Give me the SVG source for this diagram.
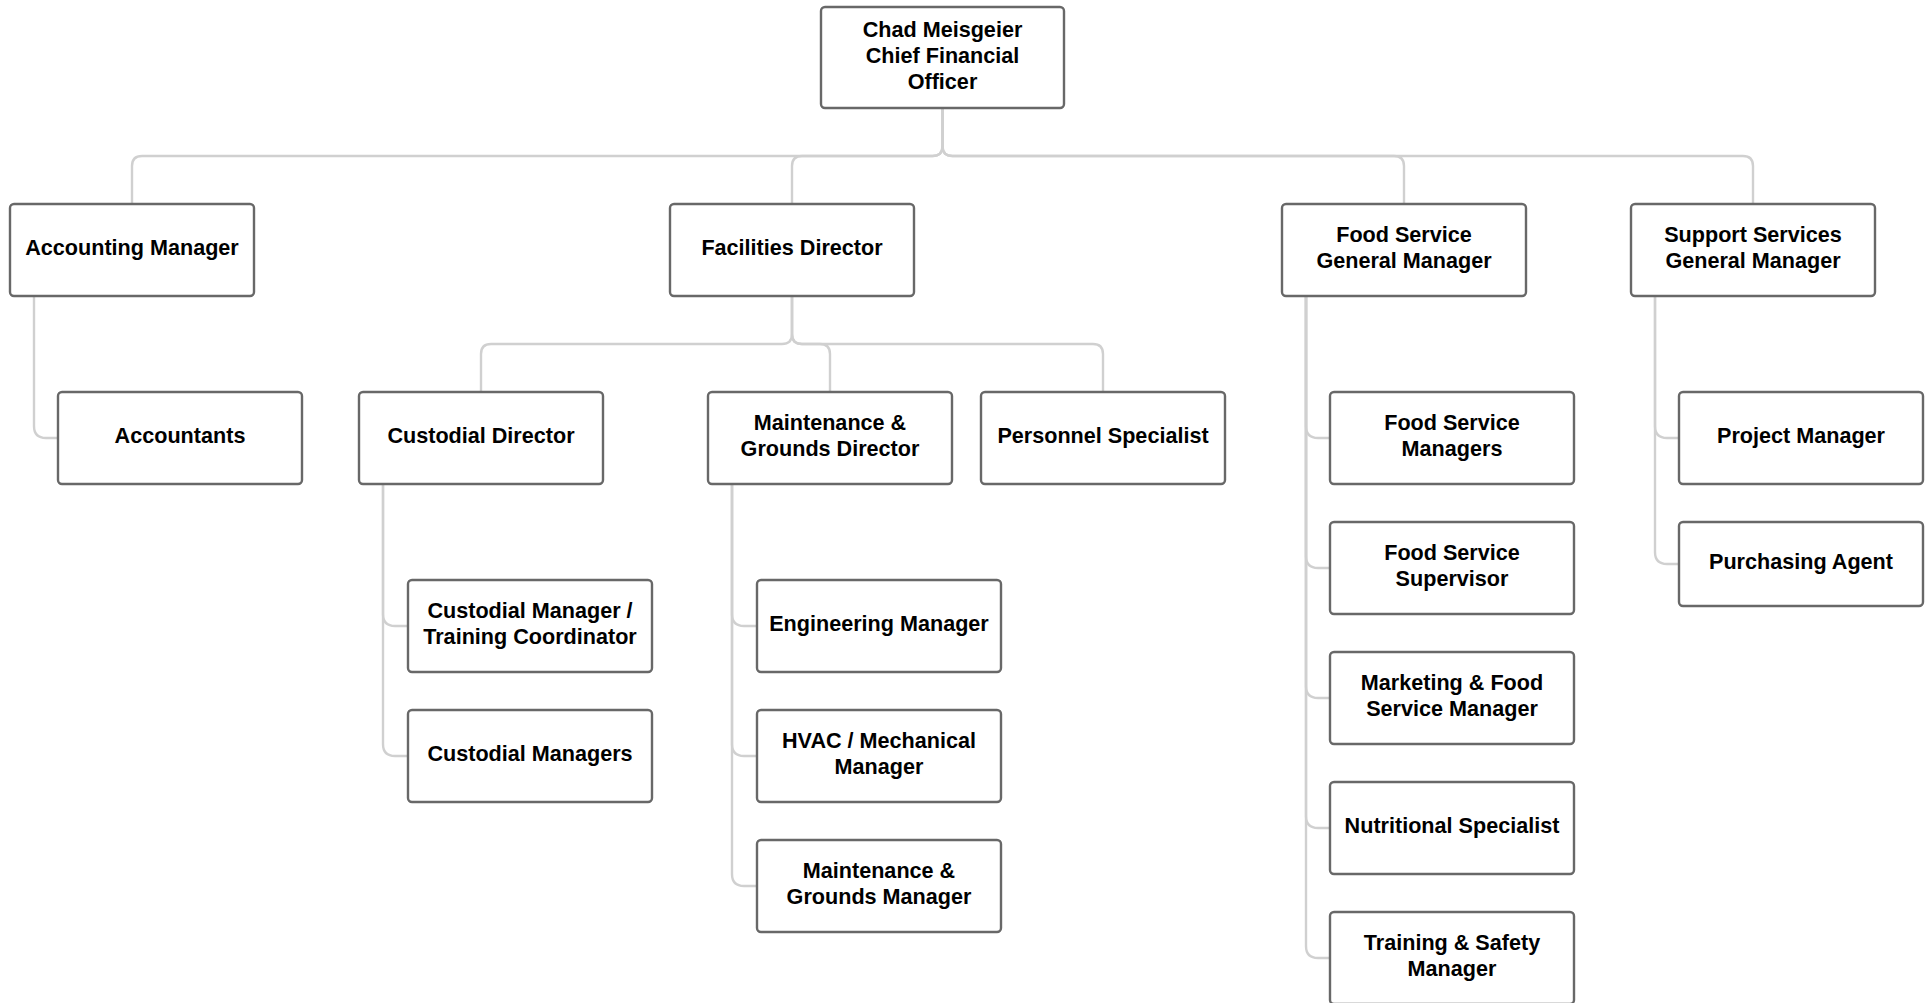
<svg xmlns="http://www.w3.org/2000/svg" width="1927" height="1003" viewBox="0 0 1927 1003">
<style>
  .box { fill: #ffffff; stroke: #686868; stroke-width: 2.4; }
  .conn { fill: none; stroke: #d0d0d0; stroke-width: 2.4; }
  .lbl { font-family: "Liberation Sans", Arial, sans-serif; font-weight: bold; font-size: 21.6px; fill: #000000; text-anchor: middle; }
</style>
<rect width="1927" height="1003" fill="#ffffff"/>
<g id="connectors">
  <path class="conn" d="M942.5 108 V146 Q942.5 156 932.5 156 H142 Q132 156 132 166 V204"/>
  <path class="conn" d="M942.5 108 V146 Q942.5 156 932.5 156 H802 Q792 156 792 166 V204"/>
  <path class="conn" d="M942.5 108 V146 Q942.5 156 952.5 156 H1394 Q1404 156 1404 166 V204"/>
  <path class="conn" d="M942.5 108 V146 Q942.5 156 952.5 156 H1743 Q1753 156 1753 166 V204"/>
  <path class="conn" d="M792 296 V334 Q792 344 782 344 H491 Q481 344 481 354 V392"/>
  <path class="conn" d="M792 296 V334 Q792 344 802 344 H820 Q830 344 830 354 V392"/>
  <path class="conn" d="M792 296 V334 Q792 344 802 344 H1093 Q1103 344 1103 354 V392"/>
  <path class="conn" d="M34 296 V426 Q34 438 46 438 H58"/>
  <path class="conn" d="M383 484 V614 Q383 626 395 626 H408"/>
  <path class="conn" d="M383 484 V744 Q383 756 395 756 H408"/>
  <path class="conn" d="M732 484 V614 Q732 626 744 626 H757"/>
  <path class="conn" d="M732 484 V744 Q732 756 744 756 H757"/>
  <path class="conn" d="M732 484 V874 Q732 886 744 886 H757"/>
  <path class="conn" d="M1306 296 V426 Q1306 438 1318 438 H1330"/>
  <path class="conn" d="M1306 296 V556 Q1306 568 1318 568 H1330"/>
  <path class="conn" d="M1306 296 V686 Q1306 698 1318 698 H1330"/>
  <path class="conn" d="M1306 296 V816 Q1306 828 1318 828 H1330"/>
  <path class="conn" d="M1306 296 V946 Q1306 958 1318 958 H1330"/>
  <path class="conn" d="M1655 296 V426 Q1655 438 1667 438 H1679"/>
  <path class="conn" d="M1655 296 V552 Q1655 564 1667 564 H1679"/>
</g>
<g id="cfo">
  <rect class="box" x="821" y="7" width="243" height="101" rx="4"/>
  <text class="lbl"><tspan x="942.5" y="36.5">Chad Meisgeier</tspan><tspan x="942.5" y="62.5">Chief Financial</tspan><tspan x="942.5" y="88.5">Officer</tspan></text>
</g>
<g id="accounting-manager">
  <rect class="box" x="10" y="204" width="244" height="92" rx="4"/>
  <text class="lbl" x="132" y="255">Accounting Manager</text>
</g>
<g id="facilities-director">
  <rect class="box" x="670" y="204" width="244" height="92" rx="4"/>
  <text class="lbl" x="792" y="255">Facilities Director</text>
</g>
<g id="food-service-gm">
  <rect class="box" x="1282" y="204" width="244" height="92" rx="4"/>
  <text class="lbl"><tspan x="1404" y="242">Food Service</tspan><tspan x="1404" y="268">General Manager</tspan></text>
</g>
<g id="support-services-gm">
  <rect class="box" x="1631" y="204" width="244" height="92" rx="4"/>
  <text class="lbl"><tspan x="1753" y="242">Support Services</tspan><tspan x="1753" y="268">General Manager</tspan></text>
</g>
<g id="accountants">
  <rect class="box" x="58" y="392" width="244" height="92" rx="4"/>
  <text class="lbl" x="180" y="443">Accountants</text>
</g>
<g id="custodial-director">
  <rect class="box" x="359" y="392" width="244" height="92" rx="4"/>
  <text class="lbl" x="481" y="443">Custodial Director</text>
</g>
<g id="maintenance-grounds-director">
  <rect class="box" x="708" y="392" width="244" height="92" rx="4"/>
  <text class="lbl"><tspan x="830" y="430">Maintenance &amp;</tspan><tspan x="830" y="456">Grounds Director</tspan></text>
</g>
<g id="personnel-specialist">
  <rect class="box" x="981" y="392" width="244" height="92" rx="4"/>
  <text class="lbl" x="1103" y="443">Personnel Specialist</text>
</g>
<g id="food-service-managers">
  <rect class="box" x="1330" y="392" width="244" height="92" rx="4"/>
  <text class="lbl"><tspan x="1452" y="430">Food Service</tspan><tspan x="1452" y="456">Managers</tspan></text>
</g>
<g id="project-manager">
  <rect class="box" x="1679" y="392" width="244" height="92" rx="4"/>
  <text class="lbl" x="1801" y="443">Project Manager</text>
</g>
<g id="purchasing-agent">
  <rect class="box" x="1679" y="522" width="244" height="84" rx="4"/>
  <text class="lbl" x="1801" y="569">Purchasing Agent</text>
</g>
<g id="custodial-manager-training">
  <rect class="box" x="408" y="580" width="244" height="92" rx="4"/>
  <text class="lbl"><tspan x="530" y="618">Custodial Manager /</tspan><tspan x="530" y="644">Training Coordinator</tspan></text>
</g>
<g id="custodial-managers">
  <rect class="box" x="408" y="710" width="244" height="92" rx="4"/>
  <text class="lbl" x="530" y="761">Custodial Managers</text>
</g>
<g id="engineering-manager">
  <rect class="box" x="757" y="580" width="244" height="92" rx="4"/>
  <text class="lbl" x="879" y="631">Engineering Manager</text>
</g>
<g id="hvac-manager">
  <rect class="box" x="757" y="710" width="244" height="92" rx="4"/>
  <text class="lbl"><tspan x="879" y="748">HVAC / Mechanical</tspan><tspan x="879" y="774">Manager</tspan></text>
</g>
<g id="maintenance-grounds-manager">
  <rect class="box" x="757" y="840" width="244" height="92" rx="4"/>
  <text class="lbl"><tspan x="879" y="878">Maintenance &amp;</tspan><tspan x="879" y="904">Grounds Manager</tspan></text>
</g>
<g id="food-service-supervisor">
  <rect class="box" x="1330" y="522" width="244" height="92" rx="4"/>
  <text class="lbl"><tspan x="1452" y="560">Food Service</tspan><tspan x="1452" y="586">Supervisor</tspan></text>
</g>
<g id="marketing-food-service-manager">
  <rect class="box" x="1330" y="652" width="244" height="92" rx="4"/>
  <text class="lbl"><tspan x="1452" y="690">Marketing &amp; Food</tspan><tspan x="1452" y="716">Service Manager</tspan></text>
</g>
<g id="nutritional-specialist">
  <rect class="box" x="1330" y="782" width="244" height="92" rx="4"/>
  <text class="lbl" x="1452" y="833">Nutritional Specialist</text>
</g>
<g id="training-safety-manager">
  <rect class="box" x="1330" y="912" width="244" height="92" rx="4"/>
  <text class="lbl"><tspan x="1452" y="950">Training &amp; Safety</tspan><tspan x="1452" y="976">Manager</tspan></text>
</g>
</svg>
